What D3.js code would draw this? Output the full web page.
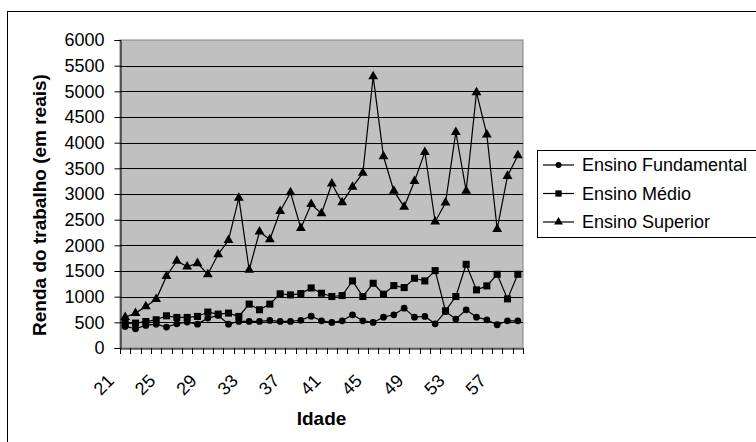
<!DOCTYPE html>
<html>
<head>
<meta charset="utf-8">
<script src="https://cdn.jsdelivr.net/npm/d3@7"></script>
<style>
  body { margin: 0; background: #fff; }
  text { font-family: "Liberation Sans", Arial, sans-serif; fill: #000; }
</style>
</head>
<body>
<div id="chart"></div>
<script>
// idades 21..59
const ages = d3.range(21, 60);
const tickAges = [21, 25, 29, 33, 37, 41, 45, 49, 53, 57];
const yTicks = d3.range(0, 6001, 500);

const fundamental = [420, 375, 440, 465, 408, 472, 505, 465, 582, 634,
                     465, 517, 517, 517, 537, 517, 517, 540, 620, 530,
                     498, 530, 647, 530, 498, 601, 647, 776, 601, 614,
                     472, 711, 563, 744, 601, 550, 453, 530, 530];
const medio = [480, 485, 515, 550, 627, 595, 595, 615, 700, 660,
               680, 615, 855, 745, 855, 1055, 1035, 1060, 1170, 1067,
               1003, 1022, 1307, 1003, 1261, 1048, 1216, 1177, 1358, 1307,
               1507, 724, 1003, 1630, 1132, 1210, 1436, 957, 1436];
const superior = [600, 680, 810, 950, 1400, 1695, 1585, 1650, 1435, 1825,
                  2100, 2925, 1520, 2265, 2115, 2665, 3030, 2335, 2800, 2620,
                  3200, 2835, 3140, 3410, 5290, 3730, 3060, 2750, 3250, 3815,
                  2460, 2830, 4205, 3060, 4980, 4155, 2315, 3350, 3750];

const series = [
  {name: "Ensino Fundamental", values: fundamental, symbol: d3.symbolCircle, size: 36},
  {name: "Ensino Médio", values: medio, symbol: d3.symbolSquare, size: 50},
  {name: "Ensino Superior", values: superior, symbol: d3.symbolTriangle, size: 42}
];

const W = 756, H = 442;
const plot = {left: 120, right: 523, top: 40, bottom: 348};

const svg = d3.select("#chart").append("svg")
  .attr("width", W).attr("height", H);

// moldura externa
svg.append("rect")
  .attr("x", 7.5).attr("y", 11.5)
  .attr("width", W).attr("height", H)
  .attr("fill", "none").attr("stroke", "#000");

const x = d3.scaleBand().domain(ages).range([plot.left, plot.right]);
const y = d3.scaleLinear().domain([0, 6000]).range([plot.bottom, plot.top]);

svg.append("rect")
  .attr("x", plot.left).attr("y", plot.top)
  .attr("width", plot.right - plot.left).attr("height", plot.bottom - plot.top)
  .attr("fill", "#c0c0c0").attr("stroke", "#808080");

svg.append("g")
  .selectAll("line.grid")
  .data(yTicks.slice(1, -1))
  .enter()
  .append("line")
  .attr("class", "grid")
  .attr("x1", plot.left).attr("x2", plot.right)
  .attr("y1", d => Math.round(y(d)) + 0.5)
  .attr("y2", d => Math.round(y(d)) + 0.5)
  .attr("stroke", "#000");

// eixo y
const yAxis = svg.append("g")
  .attr("transform", `translate(${plot.left + 0.5},0)`)
  .call(d3.axisLeft(y).tickValues(yTicks).tickSize(6).tickPadding(10).tickFormat(d3.format("d")));
yAxis.selectAll("text").style("font-size", "18px");
yAxis.selectAll("line, path").attr("stroke", "#000");

// eixo x
const xAxis = svg.append("g")
  .attr("transform", `translate(0,${plot.bottom + 0.5})`)
  .call(d3.axisBottom(x).tickValues([]).tickSizeOuter(0));
xAxis.select("path").attr("stroke", "#000");

svg.append("g")
  .selectAll("line.xtick")
  .data(ages.concat([60]))
  .enter()
  .append("line")
  .attr("class", "xtick")
  .attr("x1", d => Math.round(d === 60 ? plot.right : x(d)) + 0.5)
  .attr("x2", d => Math.round(d === 60 ? plot.right : x(d)) + 0.5)
  .attr("y1", plot.bottom).attr("y2", plot.bottom + 6)
  .attr("stroke", "#000");

svg.append("g")
  .selectAll("text.xlab")
  .data(tickAges)
  .enter()
  .append("text")
  .attr("class", "xlab")
  .attr("transform", d => `translate(${x(d) + x.bandwidth() / 2 - 10},${plot.bottom + 34}) rotate(-45)`)
  .attr("text-anchor", "end")
  .style("font-size", "18px")
  .text(d => d);

// titulos
svg.append("text")
  .attr("x", (plot.left + plot.right) / 2).attr("y", 425)
  .attr("text-anchor", "middle")
  .style("font-size", "19px").style("font-weight", "bold")
  .text("Idade");

svg.append("text")
  .attr("transform", "translate(46,205) rotate(-90)")
  .attr("text-anchor", "middle")
  .style("font-size", "19px").style("font-weight", "bold")
  .text("Renda do trabalho (em reais)");

// linhas
const line = d3.line()
  .x((d, i) => x(ages[i]) + x.bandwidth() / 2)
  .y(d => y(d));

series.forEach(s => {
  svg.append("path")
    .datum(s.values)
    .attr("d", line)
    .attr("fill", "none")
    .attr("stroke", "#000")
    .attr("stroke-width", 1.2);

  svg.append("g")
    .selectAll("path.marker")
    .data(s.values)
    .enter()
    .append("path")
    .attr("class", "marker")
    .attr("d", d3.symbol().type(s.symbol).size(s.size))
    .attr("transform", (d, i) => `translate(${x(ages[i]) + x.bandwidth() / 2},${y(d)})`)
    .attr("fill", "#000");
});

// legenda
const legend = svg.append("g");
legend.append("rect")
  .attr("x", 537.5).attr("y", 150.5)
  .attr("width", 240).attr("height", 87)
  .attr("fill", "#fff").attr("stroke", "#000");

const items = legend.selectAll("g.item")
  .data(series)
  .enter()
  .append("g")
  .attr("class", "item")
  .attr("transform", (d, i) => `translate(0,${165 + i * 28.5})`);

items.append("line")
  .attr("x1", 543).attr("x2", 574)
  .attr("stroke", "#000").attr("stroke-width", 1.2);
items.append("path")
  .attr("d", d => d3.symbol().type(d.symbol).size(d.size * 0.8)())
  .attr("transform", "translate(558.5,0)")
  .attr("fill", "#000");
items.append("text")
  .attr("x", 582).attr("dy", "0.35em")
  .style("font-size", "18px")
  .text(d => d.name);
</script>
</body>
</html>
